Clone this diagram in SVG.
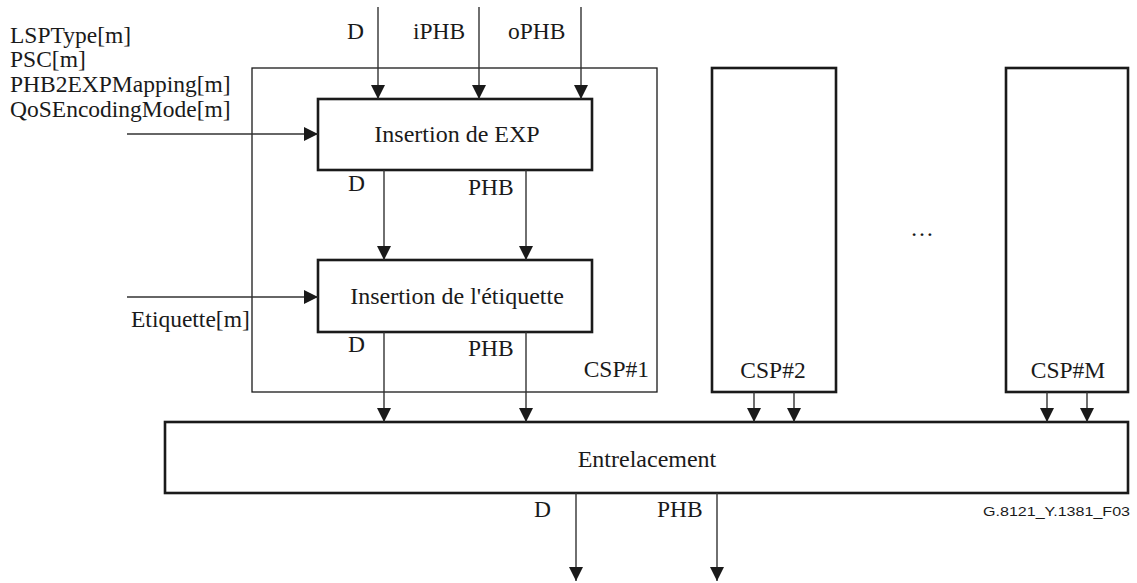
<svg xmlns="http://www.w3.org/2000/svg" width="1137" height="583" viewBox="0 0 1137 583">
<style>
text{font-family:"Liberation Serif","Times New Roman",serif;font-size:23.5px;fill:#1a1a1a}
.lbl{font-size:24px}
.mid{text-anchor:middle}
.end{text-anchor:end}
.box{fill:#fff;stroke:#1a1a1a;stroke-width:2.6}
.thin{fill:none;stroke:#1a1a1a;stroke-width:1.3}
.cn{fill:none;stroke:#333;stroke-width:1.4;marker-end:url(#ah)}
.ref{font-family:"Liberation Sans",Arial,sans-serif;font-size:13px}
</style>
<defs>
<marker id="ah" markerUnits="userSpaceOnUse" markerWidth="14" markerHeight="14" viewBox="0 0 12 12" refX="12" refY="6" orient="auto">
<path d="M0,0 L12,6 L0,12 Z" fill="#1a1a1a"/>
</marker>
</defs>
<rect width="1137" height="583" fill="#fff"/>
<g id="params">
<text x="10" y="43">LSPType[m]</text>
<text x="10" y="67">PSC[m]</text>
<text x="10" y="92">PHB2EXPMapping[m]</text>
<text x="10" y="117">QoSEncodingMode[m]</text>
<text x="131" y="327">Etiquette[m]</text>
</g>
<g id="csp1">
<rect class="thin" x="252" y="68" width="405" height="324"/>
<text class="end" x="649" y="377">CSP#1</text>
</g>
<g id="insertion-exp">
<rect class="box" x="318" y="99" width="274" height="71"/>
<text class="lbl mid" x="457" y="142">Insertion de EXP</text>
</g>
<g id="insertion-etiquette">
<rect class="box" x="318" y="260" width="274" height="72"/>
<text class="lbl mid" x="457" y="304">Insertion de l'étiquette</text>
</g>
<g id="csp2">
<rect class="box" x="712" y="68" width="124" height="324"/>
<text class="mid" x="773" y="378">CSP#2</text>
</g>
<g id="dots">
<text class="mid" x="922" y="236">…</text>
</g>
<g id="cspM">
<rect class="box" x="1006" y="68" width="122" height="324"/>
<text class="mid" x="1068" y="378">CSP#M</text>
</g>
<g id="entrelacement">
<rect class="box" x="165" y="422" width="963" height="71"/>
<text class="lbl mid" x="647" y="467">Entrelacement</text>
</g>
<g id="connectors">
<path class="cn" d="M378,7 V99"/>
<path class="cn" d="M479,7 V99"/>
<path class="cn" d="M581,7 V99"/>
<path class="cn" d="M127,134 H318"/>
<path class="cn" d="M127,297 H318"/>
<path class="cn" d="M384,170 V260"/>
<path class="cn" d="M526,170 V260"/>
<path class="cn" d="M384,332 V422"/>
<path class="cn" d="M526,332 V422"/>
<path class="cn" d="M754,392 V422"/>
<path class="cn" d="M794,392 V422"/>
<path class="cn" d="M1047,392 V422"/>
<path class="cn" d="M1087,392 V422"/>
<path class="cn" d="M576,493 V581"/>
<path class="cn" d="M717,493 V581"/>
<text x="347" y="39">D</text>
<text x="413" y="39">iPHB</text>
<text x="508" y="39">oPHB</text>
<text x="348" y="191">D</text>
<text x="468" y="195">PHB</text>
<text x="348" y="352">D</text>
<text x="468" y="356">PHB</text>
<text class="end" x="551" y="517">D</text>
<text x="657" y="517">PHB</text>
</g>
<text class="ref end" x="1130" y="516" textLength="147" lengthAdjust="spacingAndGlyphs">G.8121_Y.1381_F03</text>
</svg>
